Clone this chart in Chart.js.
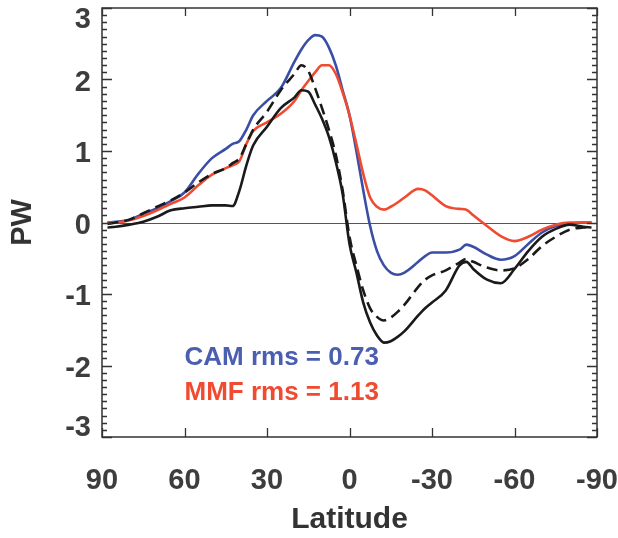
<!DOCTYPE html>
<html lang="en">
<head>
  <meta charset="UTF-8">
  <title>PW vs Latitude</title>
  <style>
    html, body { margin: 0; padding: 0; background: #fff; }
    .chartBox { width: 618px; height: 538px; }
  </style>
</head>
<body>
  <div class="chartBox">
    <canvas id="myChart" width="618" height="538"></canvas>
  </div>

<script src="https://cdn.jsdelivr.net/npm/chart.js"></script>
<script>
  // latitudes (deg), shared by all four curves
  const lat = [88, 85, 80, 75, 70, 65, 60, 55, 50, 45, 42.5, 40, 37.5, 35, 30, 25, 20, 17.5, 15, 12.5, 10, 7.5, 5, 2.5, 0,
               -2.5, -5, -7.5, -10, -12.5, -15, -17.5, -20, -25, -27.5, -30, -35, -40, -42.5, -45, -50, -55, -60, -65, -70, -75, -80, -85, -88];

  const cam = [0.0, 0.01, 0.04, 0.12, 0.2, 0.3, 0.42, 0.68, 0.9, 1.03, 1.1, 1.14, 1.3, 1.5, 1.7, 1.88, 2.25, 2.42, 2.55, 2.62, 2.6, 2.45, 2.2, 1.85, 1.5,
               1.0, 0.45, -0.05, -0.4, -0.6, -0.7, -0.73, -0.7, -0.55, -0.47, -0.42, -0.42, -0.38, -0.31, -0.34, -0.45, -0.52, -0.47, -0.3, -0.14, -0.05, -0.02, 0.0, 0.0];

  const mmf = [0.0, 0.0, 0.03, 0.09, 0.17, 0.26, 0.35, 0.52, 0.67, 0.76, 0.8, 0.86, 1.1, 1.28, 1.4, 1.52, 1.7, 1.85, 1.98, 2.1, 2.2, 2.2, 2.08, 1.82, 1.5,
               1.1, 0.68, 0.35, 0.22, 0.18, 0.22, 0.28, 0.35, 0.47, 0.45, 0.38, 0.23, 0.19, 0.18, 0.1, -0.05, -0.19, -0.26, -0.2, -0.1, -0.03, 0.0, 0.0, 0.0];

  const obs = [-0.07, -0.06, -0.03, 0.01, 0.08, 0.17, 0.2, 0.22, 0.24, 0.24, 0.23, 0.45, 0.8, 1.08, 1.34, 1.6, 1.75, 1.85, 1.83, 1.65, 1.45, 1.2, 0.85, 0.4, -0.3,
               -0.7, -1.12, -1.4, -1.58, -1.68, -1.66, -1.6, -1.52, -1.3, -1.2, -1.12, -0.95, -0.6, -0.55, -0.65, -0.8, -0.85, -0.65, -0.4, -0.2, -0.09, -0.03, -0.06, -0.07];

  const obs2 = [-0.02, 0.0, 0.04, 0.13, 0.22, 0.31, 0.42, 0.56, 0.68, 0.76, 0.83, 0.9, 1.1, 1.3, 1.55, 1.85, 2.08, 2.2, 2.12, 1.88, 1.6, 1.3, 0.95, 0.45, -0.2,
                -0.6, -0.95, -1.2, -1.32, -1.37, -1.33, -1.25, -1.15, -0.9, -0.8, -0.74, -0.67, -0.56, -0.51, -0.55, -0.63, -0.67, -0.64, -0.51, -0.33, -0.2, -0.1, -0.07, -0.06];

  const latTicks = [90, 60, 30, 0, -30, -60, -90];
  const pwTicks = [-3, -2, -1, 0, 1, 2, 3];

  const camLabel = 'CAM rms = 0.73';
  const mmfLabel = 'MMF rms = 1.13';

  const toXY = (arr) => arr.map((v, i) => ({ x: lat[i], y: v }));

  const fontFam = '"Liberation Sans", Arial, sans-serif';
  const tickFont = { family: fontFam, size: 29, weight: 'bold' };

  // frame, inward tick marks, zero line, y labels and the rms texts
  const frameTicks = {
    id: 'frameTicks',
    beforeDatasetsDraw(chart) {
      const { ctx, chartArea: a, scales: { y } } = chart;
      ctx.save();
      ctx.strokeStyle = '#555';
      ctx.lineWidth = 1;
      const y0 = Math.round(y.getPixelForValue(0)) + 0.5;
      ctx.beginPath();
      ctx.moveTo(a.left, y0);
      ctx.lineTo(a.right, y0);
      ctx.stroke();
      ctx.restore();
    },
    afterDraw(chart) {
      const { ctx, chartArea: a, scales: { x, y } } = chart;
      ctx.save();
      ctx.strokeStyle = '#333';
      ctx.lineWidth = 1.5;
      ctx.strokeRect(a.left, a.top, a.right - a.left, a.bottom - a.top);

      ctx.lineWidth = 1.3;
      ctx.beginPath();
      for (let k = -30; k <= 30; k++) {
        const py = Math.round(y.getPixelForValue(k / 10)) + 0.5;
        const len = (k % 10 === 0) ? 10 : 5;
        ctx.moveTo(a.left, py); ctx.lineTo(a.left + len, py);
        ctx.moveTo(a.right, py); ctx.lineTo(a.right - len, py);
      }
      latTicks.forEach(t => {
        const px = Math.round(x.getPixelForValue(t)) + 0.5;
        ctx.moveTo(px, a.top); ctx.lineTo(px, a.top + 8);
        ctx.moveTo(px, a.bottom); ctx.lineTo(px, a.bottom - 9);
      });
      ctx.stroke();

      // y tick labels, end ones pulled inside like the original
      ctx.font = 'bold 29px ' + fontFam;
      ctx.fillStyle = '#3d3d3d';
      ctx.textAlign = 'right';
      ctx.textBaseline = 'middle';
      pwTicks.forEach(v => {
        let py = y.getPixelForValue(v) + 3;
        py = Math.min(Math.max(py, a.top + 12), a.bottom - 9);
        ctx.fillText(String(v), a.left - 11, py);
      });

      ctx.font = 'bold 26px ' + fontFam;
      ctx.textAlign = 'left';
      ctx.fillStyle = '#4a5fb0';
      ctx.fillText(camLabel, x.getPixelForValue(60), y.getPixelForValue(-1.89));
      ctx.fillStyle = '#f04a30';
      ctx.fillText(mmfLabel, x.getPixelForValue(60), y.getPixelForValue(-2.38));
      ctx.restore();
    }
  };

  const line = (data, color, dash) => ({
    data: toXY(data),
    borderColor: color,
    borderWidth: 2.6,
    borderDash: dash || [],
    pointRadius: 0,
    fill: false,
    cubicInterpolationMode: 'monotone'
  });

  new Chart(document.getElementById('myChart'), {
    type: 'line',
    data: {
      datasets: [
        line(obs, '#1a1a1a'),
        line(obs2, '#1a1a1a', [11, 6]),
        line(mmf, '#f04a30'),
        line(cam, '#3a4ea6')
      ]
    },
    options: {
      responsive: false,
      animation: false,
      layout: { padding: { left: 0, right: 21, top: 8, bottom: 0 } },
      plugins: { legend: { display: false }, tooltip: { enabled: false } },
      scales: {
        x: {
          type: 'linear',
          reverse: true,
          min: -90,
          max: 90,
          afterBuildTicks: (s) => { s.ticks = latTicks.map(v => ({ value: v })); },
          afterFit: (s) => { s.height = 101; s.paddingLeft = 0; s.paddingRight = 0; },
          grid: { display: false, drawTicks: false },
          border: { display: false },
          ticks: { color: '#3d3d3d', font: tickFont, padding: 27, maxRotation: 0, autoSkip: false },
          title: { display: true, text: 'Latitude', color: '#333', font: { family: fontFam, size: 30, weight: 'bold' }, padding: { top: 0, bottom: 0 } }
        },
        y: {
          min: -3,
          max: 3,
          afterBuildTicks: (s) => { s.ticks = pwTicks.map(v => ({ value: v })); },
          afterFit: (s) => { s.width = 102; s.paddingTop = 0; s.paddingBottom = 0; },
          grid: { display: false, drawTicks: false },
          border: { display: false },
          ticks: { display: false },
          title: { display: true, text: 'PW', color: '#333', font: tickFont, padding: { top: 6, bottom: 0 } }
        }
      }
    },
    plugins: [frameTicks]
  });
</script>
</body>
</html>
